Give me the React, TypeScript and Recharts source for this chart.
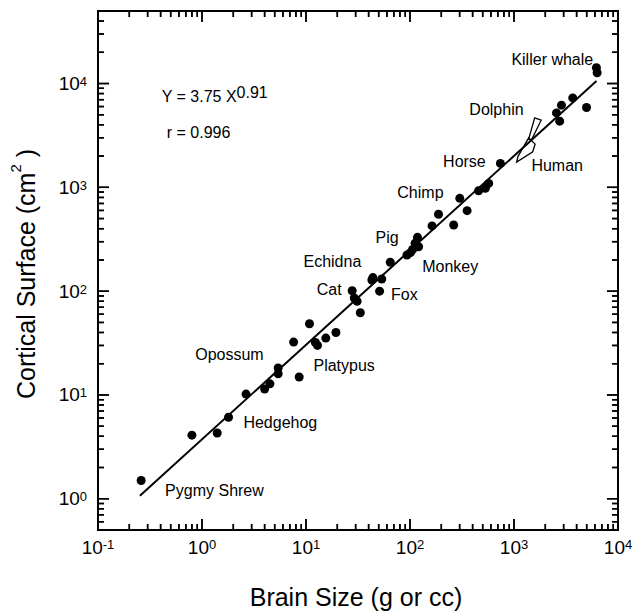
import React from 'react';
import { ScatterChart, Scatter, XAxis, YAxis, ReferenceArea } from 'recharts';

// brain size (g or cc) vs cortical surface (cm2)
const brainSize = [0.26, 0.8, 1.4, 1.8, 2.65, 4.0, 4.5, 5.4, 5.4, 7.6, 8.6, 10.8, 12.3, 12.9, 15.5, 19.4, 27.8, 29.1, 31, 33.3, 43, 44, 51, 53.5, 64.6, 93.5, 101, 106, 112, 118, 121, 163, 188, 263, 301, 354, 457, 530, 571, 740, 2560, 2750, 2860, 3670, 4980, 6200, 6300];
const corticalSurface = [1.5, 4.1, 4.3, 6.1, 10.2, 11.4, 12.8, 16.0, 18.2, 32.3, 14.9, 48.5, 32.0, 30.0, 35.3, 40.0, 101, 86, 80, 62, 128, 135, 100, 131, 190, 223, 235, 252, 290, 330, 268, 425, 550, 434, 784, 596, 928, 978, 1092, 1702, 5215, 4340, 6190, 7270, 5880, 14200, 12700];

// regression line Y = 3.75 X^0.91, end points as drawn
const fitLine = [
  { x: 0.253, y: 1.07 },
  { x: 6210, y: 10600 },
];

// outlined ranges for dolphin and human
const dolphinOutline = [
  { x: 1581, y: 4670 },
  { x: 1824, y: 4437 },
  { x: 1469, y: 2851 },
  { x: 1384, y: 2913 },
];
const humanOutline = [
  { x: 1384, y: 2999 },
  { x: 1596, y: 2609 },
  { x: 1514, y: 2200 },
  { x: 1061, y: 1751 },
  { x: 1090, y: 1978 },
];

const annotations = [
  { x: 0.41, y: 6655, text: 'Y = 3.75 X', sup: '0.91' },
  { x: 0.458, y: 2979, text: 'r = 0.996' },
  { x: 944, y: 15000, text: 'Killer whale' },
  { x: 372, y: 4955, text: 'Dolphin' },
  { x: 208, y: 1578, text: 'Horse' },
  { x: 1470, y: 1445, text: 'Human' },
  { x: 75.5, y: 794, text: 'Chimp' },
  { x: 46.7, y: 293, text: 'Pig' },
  { x: 9.46, y: 172.5, text: 'Echidna' },
  { x: 131, y: 152, text: 'Monkey' },
  { x: 12.7, y: 92, text: 'Cat' },
  { x: 65.6, y: 82.5, text: 'Fox' },
  { x: 0.86, y: 21.9, text: 'Opossum' },
  { x: 11.8, y: 17.1, text: 'Platypus' },
  { x: 2.5, y: 4.82, text: 'Hedgehog' },
  { x: 0.442, y: 1.06, text: 'Pygmy Shrew' },
];

const X_MIN = 0.1;
const X_MAX = 10000;
const Y_MIN = 0.5;
const Y_MAX = 50000;

const xDecades = [0.1, 1, 10, 100, 1000];
const yDecades = [1, 10, 100, 1000];
const minorSteps = [2, 3, 4, 5, 6, 7, 8, 9];
const xTicks = [...xDecades.flatMap((d) => [d, ...minorSteps.map((m) => m * d)]), 10000];
const yTicks = [0.6, 0.7, 0.8, 0.9, ...yDecades.flatMap((d) => [d, ...minorSteps.map((m) => m * d)]), 10000, 20000, 30000, 40000];

const points = brainSize.map((x, i) => ({ x, y: corticalSurface[i] }));

const FONT = '"Liberation Sans", Arial, Helvetica, sans-serif';

const isDecade = (v: number) => Math.abs(Math.log10(v) - Math.round(Math.log10(v))) < 1e-6;
const expOf = (v: number) => String(Math.round(Math.log10(v)));

// inward tick marks as a series, kept a hair inside the domain edges
const bottomMarks = xTicks.map((v) => ({ x: v, y: Y_MIN * 1.001, dx: 0, dy: -1, big: isDecade(v) }));
const topMarks = xTicks.map((v) => ({ x: v, y: Y_MAX / 1.001, dx: 0, dy: 1, big: isDecade(v) }));
const leftMarks = yTicks.map((v) => ({ x: X_MIN * 1.001, y: v, dx: 1, dy: 0, big: isDecade(v) }));
const rightMarks = yTicks.map((v) => ({ x: X_MAX / 1.001, y: v, dx: -1, dy: 0, big: isDecade(v) }));
const tickMarks = [...bottomMarks, ...topMarks, ...leftMarks, ...rightMarks];

const TickMark = (props: any) => {
  const { cx, cy, payload } = props;
  const size = payload && payload.big ? 11 : 6;
  return <line x1={cx} y1={cy} x2={cx + payload.dx * size} y2={cy + payload.dy * size} stroke="#000" strokeWidth={1.5} />;
};

// axis ticks: inward marks on the bottom edge mirrored to the top edge (y = 11)
function BottomTick(props: any) {
  const { x, y, payload } = props;
  const big = isDecade(payload.value);
  const s = big ? 11 : 6;
  return (
    <g>
      <path d={`M${x},${y}L${x},${y - s}M${x},11L${x},${11 + s}`} stroke="#000" strokeWidth={1.5} fill="none" />
      {big ? (
        <text x={x} y={y + 24} textAnchor="middle" fontSize={19} fontFamily={FONT} fill="#000">
          10<tspan dy={-5} fontSize={13}>{expOf(payload.value)}</tspan>
        </text>
      ) : null}
    </g>
  );
}

// left edge marks mirrored to the right edge (x = 618)
function LeftTick(props: any) {
  const { x, y, payload } = props;
  const big = isDecade(payload.value);
  const s = big ? 11 : 6;
  return (
    <g>
      <path d={`M${x},${y}L${x + s},${y}M618,${y}L${618 - s},${y}`} stroke="#000" strokeWidth={1.5} fill="none" />
      {big ? (
        <text x={x - 11} y={y + 6.5} textAnchor="end" fontSize={19} fontFamily={FONT} fill="#000">
          10<tspan dy={-4} fontSize={13}>{expOf(payload.value)}</tspan>
        </text>
      ) : null}
    </g>
  );
}

const NoDot = () => <g />;

const Dot = ({ cx, cy }: any) => <circle cx={cx} cy={cy} r={4.5} fill="#000" />;

const Outline = (props: any) => (
  <polygon
    points={(props.points || []).map((p: any) => `${p.x},${p.y}`).join(' ')}
    fill="none"
    stroke="#000"
    strokeWidth={1.3}
  />
);

const AnnotationText = ({ cx, cy, payload }: any) => (
  <text x={cx} y={cy} fontSize={16} fontFamily={FONT} fill="#000">
    {payload.text}
    {payload.sup && <tspan dy={-4}>{payload.sup}</tspan>}
  </text>
);

const XTitle = ({ viewBox }: any) => (
  <text x={viewBox.x + viewBox.width / 2 - 2} y={viewBox.y + 76} textAnchor="middle" fontSize={25} fontFamily={FONT} fill="#000">
    Brain Size (g or cc)
  </text>
);

const YTitle = () => (
  <text x={34.5} y={274} transform="rotate(-90 34.5 274)" textAnchor="middle" fontSize={25} fontFamily={FONT} fill="#000">
    Cortical Surface (cm<tspan dy={-14} fontSize={15}>2</tspan><tspan dy={14}> )</tspan>
  </text>
);

const axisLine = { stroke: '#000', strokeWidth: 2 };

export default function App() {
  return (
    <div style={{ position: 'absolute', left: 0, top: 0, width: 636, height: 613, background: '#fff' }}>
      <ScatterChart width={636} height={613} margin={{ top: 11, right: 18, bottom: 0, left: 0 }}>
        <XAxis type="number" dataKey="x" scale="log" domain={[X_MIN, X_MAX]} allowDataOverflow ticks={xTicks} interval={0}
          tickSize={0} tickMargin={0} tickLine={false} tick={BottomTick} height={83} axisLine={axisLine} label={XTitle} />
        <YAxis type="number" dataKey="y" scale="log" domain={[Y_MIN, Y_MAX]} allowDataOverflow ticks={yTicks} interval={0}
          tickSize={0} tickMargin={0} tickLine={false} tick={LeftTick} width={98} axisLine={axisLine} label={YTitle} />
        <ReferenceArea x1={X_MIN} x2={X_MAX} y1={Y_MIN} y2={Y_MAX} fill="none" fillOpacity={0} stroke="#000" strokeWidth={2} ifOverflow="visible" />
        <Scatter data={tickMarks} shape={TickMark} isAnimationActive={false} />
        <Scatter data={fitLine} line={{ stroke: '#000', strokeWidth: 2 }} lineType="joint" shape={NoDot} isAnimationActive={false} />
        <Scatter data={dolphinOutline} line={Outline} lineType="joint" shape={NoDot} isAnimationActive={false} />
        <Scatter data={humanOutline} line={Outline} lineType="joint" shape={NoDot} isAnimationActive={false} />
        <Scatter data={points} shape={Dot} isAnimationActive={false} />
        <Scatter data={annotations} shape={AnnotationText} isAnimationActive={false} />
      </ScatterChart>
    </div>
  );
}
